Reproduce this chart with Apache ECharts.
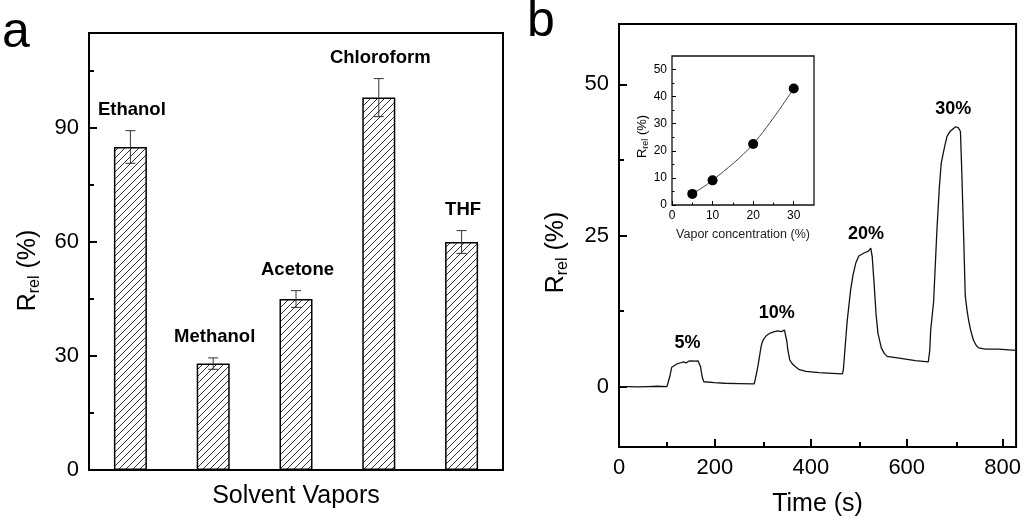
<!DOCTYPE html>
<html><head><meta charset="utf-8">
<script src="https://cdn.jsdelivr.net/npm/echarts/dist/echarts.min.js"></script>
<style>html,body{margin:0;padding:0;background:#fff}#c{width:1024px;height:522px}</style>
</head><body><div id="c"></div>
<script>
// ---------- data ----------
const solvents = ['Ethanol', 'Methanol', 'Acetone', 'Chloroform', 'THF'];
const response = [85, 28, 45, 98, 60];
const responseErr = [4.3, 1.5, 2.2, 5.0, 3.0];
const barYTicks = [0, 30, 60, 90];
const barYMinorTicks = [15, 45, 75, 105];

const timeSeries = [
  [0,0],[20,0],[40,-0.05],[60,0],[80,0.05],[100,0],[103,0.3],[106,1.7],[110,3.2],[113,3.5],
  [120,3.7],[127,3.9],[131,3.8],[135,4.1],[140,3.9],[145,4.2],[151,4.25],[158,4.2],[165,4.25],
  [168,4.0],[170,3.3],[172,2.3],[174,1.4],[177,0.8],[180,0.65],[199,0.66],[220,0.55],[250,0.5],
  [282,0.45],[284,0.5],[286,1.9],[290,3.5],[293,5.0],[296,6.5],[298,7.2],[302,7.9],[307,8.4],
  [312,8.7],[317,8.9],[324,9.1],[331,9.2],[338,9.1],[345,9.35],[348,9.2],[350,7.5],[352,6.1],
  [356,4.4],[360,3.9],[366,3.4],[376,2.8],[390,2.5],[417,2.3],[445,2.2],[466,2.1],[468,2.9],
  [471,6.0],[476,11.0],[483,16.0],[488,18.5],[494,20.5],[500,21.6],[511,22.1],[520,22.4],
  [525,22.9],[528,21.5],[532,17.0],[536,12.0],[540,8.8],[547,6.4],[553,5.5],[559,5.0],
  [584,4.7],[618,4.3],[645,4.1],[648,6.0],[650,9.4],[656,14.0],[663,26.0],[668,33.0],
  [672,37.0],[679,39.7],[684,41.4],[690,42.2],[694,42.5],[702,43.0],[708,42.8],[712,42.2],
  [715,35.0],[719,24.0],[722,15.0],[726,12.5],[729,11.0],[733,9.4],[739,7.7],[745,6.8],
  [750,6.4],[764,6.2],[791,6.2],[828,6.0]
];
const timeTicks = [0, 200, 400, 600, 800];
const timeMinorTicks = [100, 300, 500, 700];
const rTicks = [0, 25, 50];
const rMinorTicks = [12.5, 37.5];
const peakLabels = ['5%', '10%', '20%', '30%'];
const peakLabelTime = [143, 329, 515, 697];
const peakLabelR = [7.2, 12.2, 25.3, 46.0];

const concentration = [5, 10, 20, 30];
const concResponse = [4.1, 9.1, 22.5, 43.0];
const insetXTicks = [0, 10, 20, 30];
const insetXMinorTicks = [5, 15, 25];
const insetYTicks = [0, 10, 20, 30, 40, 50];
const insetYMinorTicks = [5, 15, 25, 35, 45];

// ---------- helpers ----------
const FF = 'Liberation Sans, Arial, sans-serif';
function hatch() {
  const s = 7, c = document.createElement('canvas');
  c.width = s; c.height = s;
  const g = c.getContext('2d');
  g.fillStyle = '#fff'; g.fillRect(0, 0, s, s);
  g.strokeStyle = '#333'; g.lineWidth = 1;
  g.beginPath();
  g.moveTo(-1, s + 1); g.lineTo(s + 1, -1);
  g.moveTo(-1, 1); g.lineTo(1, -1);
  g.moveTo(s - 1, s + 1); g.lineTo(s + 1, s - 1);
  g.stroke();
  return c;
}
function rName(big, small, pad) {
  return {
    color: '#000', padding: pad,
    rich: {
      r: { fontSize: big, fontFamily: FF, color: '#000', lineHeight: big * 1.2 },
      s: { fontSize: small, fontFamily: FF, color: '#000', lineHeight: small, verticalAlign: 'bottom' }
    }
  };
}
function majorAxis(gi, min, max, ticks, len, lw, fs, margin, extra) {
  return Object.assign({
    type: 'value', gridIndex: gi, min: min, max: max,
    axisLine: { show: false, onZero: false },
    splitLine: { show: false },
    axisTick: { show: true, inside: true, length: len, customValues: ticks, lineStyle: { color: '#000', width: lw } },
    axisLabel: { show: true, customValues: ticks, fontSize: fs, fontFamily: FF, color: '#000', margin: margin }
  }, extra || {});
}
function minorAxis(gi, min, max, ticks, len, lw) {
  return {
    type: 'value', gridIndex: gi, min: min, max: max,
    axisLine: { show: false, onZero: false }, splitLine: { show: false },
    axisTick: { show: true, inside: true, length: len, customValues: ticks, lineStyle: { color: '#000', width: lw } },
    axisLabel: { show: false }
  };
}
function hiddenAxis(gi) {
  return { type: 'value', gridIndex: gi, min: 0, max: 1, show: false, axisLine: { onZero: false } };
}

const gridA = { left: 89, top: 33, width: 414, height: 437 };
const gridB = { left: 619, top: 24, width: 399, height: 423 };
const gridI = { left: 672, top: 56, width: 142, height: 149 };

const chart = echarts.init(document.getElementById('c'));
chart.setOption({
  backgroundColor: '#fff',
  animation: false,
  textStyle: { fontFamily: FF },
  graphic: [
    { type: 'text', left: 2, top: 8, style: { text: 'a', font: '50px ' + FF, fill: '#000' } },
    { type: 'text', left: 527, top: -3, style: { text: 'b', font: '50px ' + FF, fill: '#000' } }
  ],
  grid: [
    Object.assign({ show: true, borderColor: '#000', borderWidth: 2, backgroundColor: 'transparent' }, gridA),
    Object.assign({ show: false }, gridA),
    Object.assign({ show: true, borderColor: '#000', borderWidth: 2, backgroundColor: 'transparent' }, gridB),
    Object.assign({ show: false }, gridB),
    Object.assign({ show: true, borderColor: '#111', borderWidth: 1.3, backgroundColor: 'transparent' }, gridI),
    Object.assign({ show: false }, gridI)
  ],
  xAxis: [
    { type: 'category', gridIndex: 0, data: solvents, axisLine: { show: false, onZero: false }, axisTick: { show: false },
      axisLabel: { show: false }, name: 'Solvent Vapors', nameLocation: 'middle', nameGap: 14,
      nameTextStyle: { fontSize: 25, fontFamily: FF, color: '#000' } },
    hiddenAxis(1),
    majorAxis(2, 0, 828, timeTicks, 8, 2, 22, 10, {
      name: 'Time (s)', nameLocation: 'middle', nameGap: 45,
      nameTextStyle: { fontSize: 25, fontFamily: FF, color: '#000' } }),
    minorAxis(3, 0, 828, timeMinorTicks, 5, 2),
    majorAxis(4, 0, 35, insetXTicks, 4, 1, 12, 5, {
      name: 'Vapor concentration (%)', nameLocation: 'middle', nameGap: 23,
      nameTextStyle: { fontSize: 12.5, fontFamily: FF, color: '#222' } }),
    minorAxis(5, 0, 35, insetXMinorTicks, 2.5, 1)
  ],
  yAxis: [
    majorAxis(0, 0, 115, barYTicks, 8, 2, 22, 10, {
      name: '{r|R}{s|rel}{r| (%)}', nameLocation: 'middle', nameGap: 46, nameTextStyle: rName(25, 16, [0, 38, 0, 0]) }),
    minorAxis(1, 0, 115, barYMinorTicks, 5, 2),
    majorAxis(2, -10, 60, rTicks, 8, 2, 22, 10, {
      name: '{r|R}{s|rel}{r| (%)}', nameLocation: 'middle', nameGap: 48, nameTextStyle: rName(25, 16, [0, 34, 0, 0]) }),
    minorAxis(3, -10, 60, rMinorTicks, 5, 2),
    majorAxis(4, 0, 55, insetYTicks, 4, 1, 12, 5, {
      name: '{r|R}{s|rel}{r| (%)}', nameLocation: 'middle', nameGap: 18, nameTextStyle: rName(13, 9, [0, 12, 0, 0]) }),
    minorAxis(5, 0, 55, insetYMinorTicks, 2.5, 1)
  ],
  series: [
    { type: 'bar', xAxisIndex: 0, yAxisIndex: 0, data: response, barWidth: 33,
      itemStyle: { color: { image: hatch(), repeat: 'repeat' }, borderColor: '#000', borderWidth: 1.5 } },
    { type: 'custom', xAxisIndex: 0, yAxisIndex: 0, z: 10,
      data: solvents.map((s, i) => [i, response[i], responseErr[i]]),
      renderItem: function (params, api) {
        const i = api.value(0), v = api.value(1), e = api.value(2);
        const top = api.coord([i, v + e]), bot = api.coord([i, v - e]);
        const w = 5;
        return { type: 'group', children: [
          { type: 'line', shape: { x1: top[0], y1: top[1], x2: bot[0], y2: bot[1] }, style: { stroke: '#333', lineWidth: 1 } },
          { type: 'line', shape: { x1: top[0] - w, y1: top[1], x2: top[0] + w, y2: top[1] }, style: { stroke: '#333', lineWidth: 1 } },
          { type: 'line', shape: { x1: bot[0] - w, y1: bot[1], x2: bot[0] + w, y2: bot[1] }, style: { stroke: '#333', lineWidth: 1 } },
          { type: 'text', style: { text: solvents[params.dataIndex], x: top[0] + 1.5, y: top[1] - 21,
            align: 'center', verticalAlign: 'middle', font: 'bold 18.5px ' + FF, fill: '#000' } }
        ] };
      } },
    { type: 'line', xAxisIndex: 2, yAxisIndex: 2, data: timeSeries, symbol: 'none',
      lineStyle: { color: '#111', width: 1.3 } },
    { type: 'custom', xAxisIndex: 2, yAxisIndex: 2, z: 10,
      data: peakLabels.map((l, i) => [peakLabelTime[i], peakLabelR[i]]),
      renderItem: function (params, api) {
        const p = api.coord([api.value(0), api.value(1)]);
        return { type: 'text', style: { text: peakLabels[params.dataIndex], x: p[0], y: p[1],
          align: 'center', verticalAlign: 'middle', font: 'bold 18px ' + FF, fill: '#000' } };
      } },
    { type: 'line', xAxisIndex: 4, yAxisIndex: 4, data: concentration.map((c, i) => [c, concResponse[i]]),
      smooth: 0.35, symbol: 'circle', symbolSize: 10,
      itemStyle: { color: '#000' }, lineStyle: { color: '#444', width: 1 } }
  ]
});
</script></body></html>
